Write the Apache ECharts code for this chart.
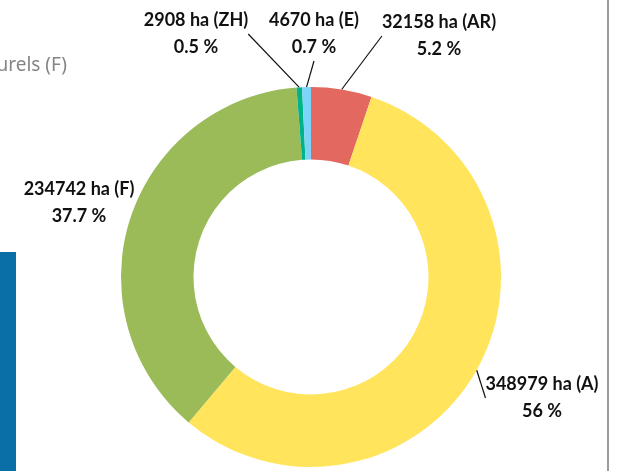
<!DOCTYPE html>
<html>
<head>
<meta charset="utf-8">
<script src="https://cdn.jsdelivr.net/npm/echarts@6/dist/echarts.min.js"></script>
<style>
html,body{margin:0;padding:0;background:#fff;}
#chart{width:626px;height:471px;}
</style>
</head>
<body>
<div id="chart"></div>
<script>
// ---- data ----
const categories = ['AR', 'A', 'F', 'ZH', 'E'];
const areas = [32158, 348979, 234742, 2908, 4670];
const colors = ['#E3685F', '#FFE45C', '#9BBB59', '#00B389', '#7DD3F8'];
// label anchor positions (layout only)
const labelPos = [[439, 36], [542, 398], [79, 203], [196, 34], [314, 34]];

const total = areas.reduce((a, b) => a + b, 0);
const chart = echarts.init(document.getElementById('chart'), null, {renderer: 'canvas'});

const data = categories.map((c, i) => ({
  name: c,
  value: areas[i],
  itemStyle: {color: colors[i]},
  labelLine: {show: c !== 'F'}
}));

chart.setOption({
  animation: false,
  graphic: [
    {type: 'text', x: 67, y: 66, style: {text: 'urels (F)', fill: '#858585', font: '19px "Noto Sans"', align: 'right', verticalAlign: 'middle'}},
    {type: 'rect', shape: {x: 0, y: 252, width: 16, height: 219}, style: {fill: '#0A6EA7'}},
    {type: 'rect', shape: {x: 607, y: 0, width: 2, height: 471}, style: {fill: '#9a9a9a'}}
  ],
  series: [{
    type: 'pie',
    center: [311, 277],
    radius: [117.5, 190],
    startAngle: 90,
    clockwise: true,
    avoidLabelOverlap: false,
    silent: true,
    data: data,
    label: {
      show: true,
      position: 'outside',
      color: '#111',
      fontFamily: 'Lato',
      fontWeight: 'bold',
      fontSize: 18,
      lineHeight: 27,
      align: 'center',
      formatter: function (p) {
        const pct = parseFloat((areas[p.dataIndex] / total * 100).toFixed(1));
        return areas[p.dataIndex] + ' ha (' + p.name + ')\n' + pct + ' %';
      }
    },
    labelLine: {show: true, length: 10, length2: 0, smooth: false, lineStyle: {color: '#111', width: 1.2}},
    labelLayout: function (p) {
      const pos = labelPos[p.dataIndex];
      return {x: pos[0], y: pos[1], align: 'center', verticalAlign: 'middle'};
    }
  }]
});
</script>
</body>
</html>
